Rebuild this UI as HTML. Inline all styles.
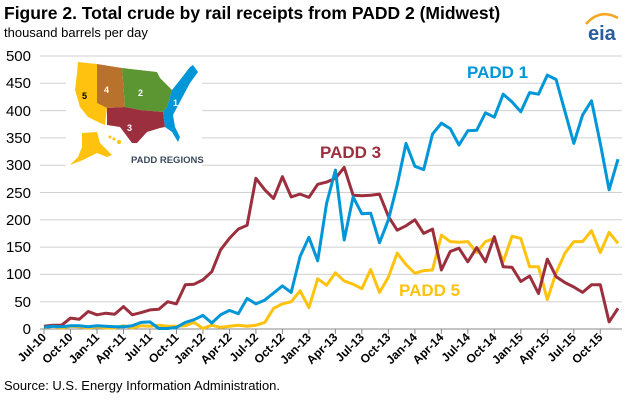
<!DOCTYPE html>
<html><head><meta charset="utf-8"><style>
body{margin:0;background:#fff;}
svg{display:block;font-family:"Liberation Sans",Arial,sans-serif;}
</style></head><body>
<svg width="624" height="400" viewBox="0 0 624 400" xmlns="http://www.w3.org/2000/svg">
<text x="4" y="19" font-size="17.5" font-weight="bold" fill="#000">Figure 2. Total crude by rail receipts from PADD 2 (Midwest)</text>
<text x="4" y="37" font-size="13" fill="#000">thousand barrels per day</text>
<g transform="translate(582,10)">
<path d="M4 14 Q18 -2 36 8" stroke="#f5a623" stroke-width="2.5" fill="none"/>
<text x="6" y="30" font-size="20" fill="#2a5d9f" font-weight="bold">eia</text>
</g>
<g id="grid" stroke="#d0d0d0" stroke-width="1">
<line x1="40" x2="622" y1="56" y2="56"/><line x1="40" x2="622" y1="83.3" y2="83.3"/><line x1="40" x2="622" y1="110.6" y2="110.6"/><line x1="40" x2="622" y1="137.9" y2="137.9"/><line x1="40" x2="622" y1="165.2" y2="165.2"/><line x1="40" x2="622" y1="192.5" y2="192.5"/><line x1="40" x2="622" y1="219.8" y2="219.8"/><line x1="40" x2="622" y1="247.1" y2="247.1"/><line x1="40" x2="622" y1="274.4" y2="274.4"/><line x1="40" x2="622" y1="301.7" y2="301.7"/>
</g>
<line x1="40" x2="622" y1="329" y2="329" stroke="#888" stroke-width="1"/>
<g font-size="15" fill="#000" text-anchor="end">
<text x="31" y="61">500</text><text x="31" y="88">450</text><text x="31" y="116">400</text><text x="31" y="143">350</text><text x="31" y="170">300</text><text x="31" y="198">250</text><text x="31" y="225">200</text><text x="31" y="252">150</text><text x="31" y="279">100</text><text x="31" y="307">50</text><text x="31" y="334">0</text>
</g>
<g id="ticks" stroke="#888"></g>
<g id="xl" font-size="12" font-weight="bold" fill="#000" text-anchor="end"></g>
<!-- map -->
<rect x="66" y="58" width="136" height="110" fill="#fff"/>
<g>
<polygon points="78,62 97,64 97,103 107,108 105,125 100,123 88,117 80,107 75,90 77,73" fill="#ffc20e"/>
<polygon points="97,64 122,68 125,107 107,108 97,103" fill="#b8722c"/>
<polygon points="122,68 157,72 160,78 172,90 167,107 163,112 140,110 125,107" fill="#5c9632"/>
<polygon points="107,108 125,107 140,110 163,112 165,127 160,128 147,132 137,143 132,143 120,127 107,125" fill="#9b2f3e"/>
<polygon points="172,90 180,80 190,67 193,65 198,72 190,83 182,98 173,115 175,127 180,137 178,142 172,132 165,127 163,112 167,107" fill="#0096d7"/>
<polygon points="82,133 97,132 100,143 112,155 107,157 97,153 83,160 70,165 78,157 82,147" fill="#ffc20e"/>
<circle cx="110" cy="137" r="1.5" fill="#ffc20e"/><circle cx="114" cy="139" r="1.5" fill="#ffc20e"/><circle cx="119" cy="142" r="2" fill="#ffc20e"/>
<text x="82" y="99" font-size="9" font-weight="bold" fill="#000">5</text>
<text x="104" y="93" font-size="9" font-weight="bold" fill="#fff">4</text>
<text x="138" y="96" font-size="9" font-weight="bold" fill="#fff">2</text>
<text x="127" y="131" font-size="9" font-weight="bold" fill="#fff">3</text>
<text x="173" y="106" font-size="9" font-weight="bold" fill="#fff">1</text>
<text x="131" y="163" font-size="9.5" font-weight="bold" fill="#3a4a5c">PADD REGIONS</text>
</g>
<g fill="none" stroke-width="3" stroke-linejoin="round">
<polyline id="p5" stroke="#ffc20e"/>
<polyline id="p3" stroke="#9b2f3e"/>
<polyline id="p1" stroke="#0096d7"/>
</g>
<text x="467" y="78" font-size="17" font-weight="bold" fill="#0096d7">PADD 1</text>
<text x="320" y="158" font-size="17" font-weight="bold" fill="#9b2f3e">PADD 3</text>
<text x="399" y="296" font-size="17" font-weight="bold" fill="#ffc20e">PADD 5</text>
<text x="4" y="390" font-size="13" fill="#000">Source: U.S. Energy Information Administration.</text>
</svg>
<script>
var r=[5,7,7,20,18,32,26,29,27,41,26,30,35,36,50,46,81,82,90,105,145,166,183,190,276,255,239,279,242,247,241,265,269,276,296,245,244,245,247,206,181,189,200,175,183,108,142,148,123,149,123,169,114,113,87,97,65,128,96,85,77,67,81,81,13,38];
var b=[3,5,4,6,6,4,6,5,4,4,6,12,13,1,1,3,12,17,25,11,26,34,28,56,46,53,66,79,67,133,168,125,230,291,163,242,211,212,158,200,264,340,298,292,357,377,367,337,363,364,396,388,430,416,398,433,430,465,457,398,340,392,418,340,255,311];
var y=[2,5,2,5,4,2,4,2,2,6,2,6,5,7,5,5,6,12,1,7,3,5,7,5,7,12,38,46,50,70,39,92,80,103,88,82,74,109,67,95,139,118,102,107,108,172,160,159,160,140,160,166,123,170,166,114,114,54,103,139,160,160,180,140,177,157];
function pts(a){return a.map(function(v,i){return (44+8.83*i).toFixed(1)+","+(329-0.546*v).toFixed(1)}).join(" ")}
document.getElementById("p1").setAttribute("points",pts(b));
document.getElementById("p3").setAttribute("points",pts(r));
document.getElementById("p5").setAttribute("points",pts(y));
var NS="http://www.w3.org/2000/svg",m=["Jul","Oct","Jan","Apr"],tg=document.getElementById("ticks"),xl=document.getElementById("xl");
for(var k=0;k<22;k++){var x=44+8.83*3*k;var l=document.createElementNS(NS,"line");l.setAttribute("x1",x);l.setAttribute("x2",x);l.setAttribute("y1",329);l.setAttribute("y2",334);tg.appendChild(l);
var yr=10+Math.floor((k+2)/4);var t=document.createElementNS(NS,"text");t.setAttribute("transform","translate("+(x+3)+",338) rotate(-45)");t.textContent=m[k%4]+"-"+yr;xl.appendChild(t);}
</script>
</body></html>
